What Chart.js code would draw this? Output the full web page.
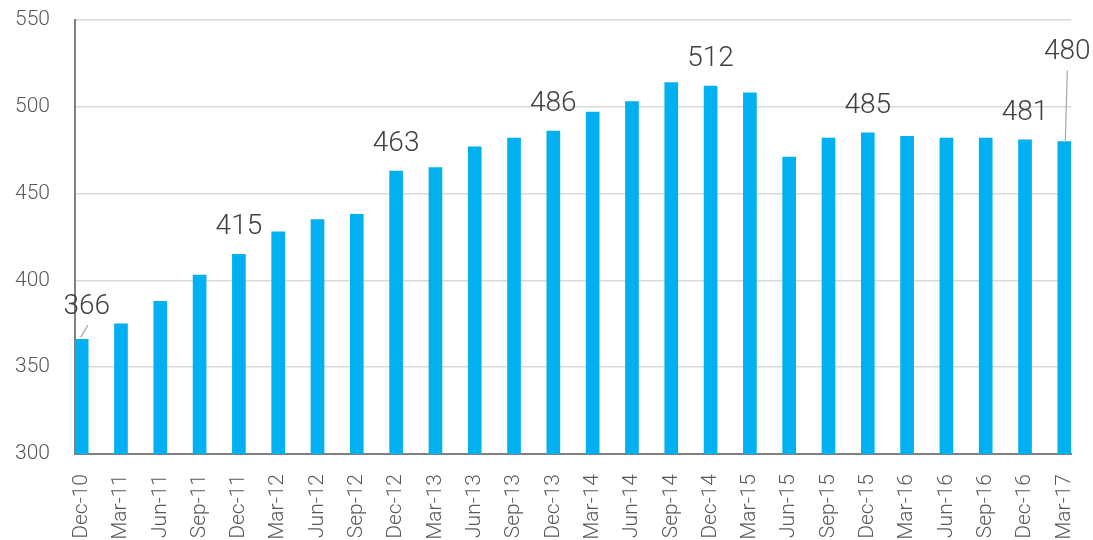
<!DOCTYPE html>
<html>
<head>
<meta charset="utf-8">
<script src="https://cdn.jsdelivr.net/npm/chart.js@4/dist/chart.umd.min.js"></script>
<style>
  body { margin: 0; background: #fff; }
  #wrap { width: 1093px; height: 540px; position: relative; }
</style>
</head>
<body>
<div id="wrap"><canvas id="myChart"></canvas></div>
<script>
const categories = ['Dec-10', 'Mar-11', 'Jun-11', 'Sep-11', 'Dec-11', 'Mar-12', 'Jun-12', 'Sep-12',
  'Dec-12', 'Mar-13', 'Jun-13', 'Sep-13', 'Dec-13', 'Mar-14', 'Jun-14', 'Sep-14', 'Dec-14',
  'Mar-15', 'Jun-15', 'Sep-15', 'Dec-15', 'Mar-16', 'Jun-16', 'Sep-16', 'Dec-16', 'Mar-17']
const values = [366, 375, 388, 403, 415, 428, 435, 438, 463, 465, 477, 482, 486, 497, 503, 514,
  512, 508, 471, 482, 485, 483, 482, 482, 481, 480]
const yTicks = [300, 350, 400, 450, 500, 550]
// bars that carry a value label
const labeled = [0, 4, 8, 12, 16, 20, 24, 25]

const blue = '#00b0f0'
const axisGrey = '#808080'

// value labels, two of them pulled off the bar with a thin leader line
const valueLabels = {
  id: 'valueLabels',
  afterDatasetsDraw(chart) {
    const ctx = chart.ctx
    const meta = chart.getDatasetMeta(0)
    ctx.save()
    ctx.font = '300 28px Roboto'
    ctx.fillStyle = '#404040'
    ctx.textAlign = 'center'
    ctx.textBaseline = 'middle'
    ctx.strokeStyle = '#a6a6a6'
    ctx.lineWidth = 1.2
    labeled.forEach(i => {
      const bar = meta.data[i]
      const txt = String(values[i])
      if (i === 0) {
        ctx.fillText(txt, bar.x + 5, bar.y - 32)
        ctx.beginPath()
        ctx.moveTo(bar.x - 1, bar.y - 2)
        ctx.lineTo(bar.x + 6, bar.y - 14)
        ctx.stroke()
      } else if (i === categories.length - 1) {
        ctx.fillText(txt, bar.x + 3, bar.y - 90)
        ctx.beginPath()
        ctx.moveTo(bar.x + 3, bar.y - 71)
        ctx.lineTo(bar.x + 1, bar.y - 1)
        ctx.stroke()
      } else {
        ctx.fillText(txt, bar.x, bar.y - 27)
      }
    })
    ctx.restore()
  }
}

const config = {
  type: 'bar',
  data: {
    datasets: [{
      data: values.map((v, i) => ({ x: i, y: v })),
      backgroundColor: blue,
      borderWidth: 0,
      barThickness: 13
    }]
  },
  options: {
    responsive: true,
    maintainAspectRatio: false,
    animation: false,
    layout: { padding: { top: 20, right: 22, bottom: 0, left: 0 } },
    plugins: {
      legend: { display: false },
      tooltip: { enabled: false }
    },
    scales: {
      x: {
        type: 'linear',
        offset: false,
        min: -0.17,
        max: 25.17,
        afterBuildTicks: scale => { scale.ticks = categories.map((c, i) => ({ value: i })) },
        afterFit: scale => {
          scale.height = 86
          scale.paddingLeft = 0
          scale.paddingRight = 0
        },
        grid: { display: false, drawTicks: false },
        border: { color: axisGrey, width: 2 },
        ticks: {
          autoSkip: false,
          minRotation: 90,
          maxRotation: 90,
          padding: 20,
          color: '#595959',
          font: { family: 'Roboto', size: 21, weight: '300' },
          callback: v => categories[v]
        }
      },
      y: {
        min: 300,
        max: 550,
        afterBuildTicks: scale => { scale.ticks = yTicks.map(v => ({ value: v })) },
        afterFit: scale => {
          scale.width = 75
          scale.paddingTop = 0
          scale.paddingBottom = 0
        },
        grid: { color: '#d9d9d9', lineWidth: 1.5, drawTicks: false },
        border: { color: axisGrey, width: 2 },
        ticks: {
          padding: 25,
          color: '#595959',
          font: { family: 'Roboto', size: 21, weight: '300' }
        }
      }
    }
  },
  plugins: [valueLabels]
}

new Chart(document.getElementById('myChart'), config)
</script>
</body>
</html>
